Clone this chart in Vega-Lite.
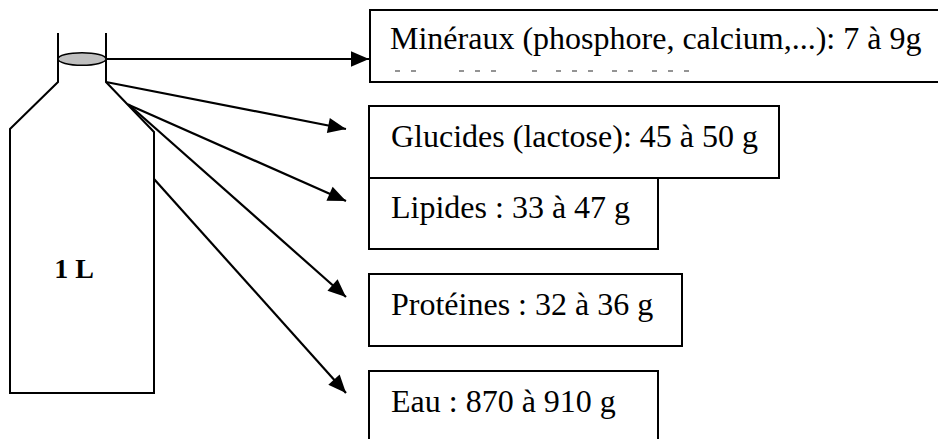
{
  "$schema": "https://vega.github.io/schema/vega-lite/v6.json",
  "width": 938,
  "height": 439,
  "autosize": {"type": "fit", "contains": "padding"},
  "padding": 0,
  "background": "white",
  "config": {"view": {"stroke": null}},
  "datasets": {
    "boxes": [
      {"item": "Minéraux", "x": 370, "x2": 950, "y": 10, "y2": 82, "tx": 390, "ty": 49, "text": "Minéraux (phosphore, calcium,...): 7 à 9g"},
      {"item": "Glucides", "x": 369, "x2": 779, "y": 106, "y2": 178, "tx": 391, "ty": 147, "text": "Glucides (lactose): 45 à 50 g"},
      {"item": "Lipides", "x": 369, "x2": 658, "y": 178, "y2": 249, "tx": 391, "ty": 218, "text": "Lipides : 33 à 47 g"},
      {"item": "Protéines", "x": 369, "x2": 682, "y": 274, "y2": 346, "tx": 391, "ty": 315, "text": "Protéines : 32 à 36 g"},
      {"item": "Eau", "x": 369, "x2": 658, "y": 371, "y2": 460, "tx": 391, "ty": 412, "text": "Eau : 870 à 910 g"}
    ],
    "dashes": [
      {"x": 395, "x2": 400, "y": 71}, {"x": 411, "x2": 416, "y": 71},
      {"x": 459, "x2": 464, "y": 71}, {"x": 475, "x2": 480, "y": 71}, {"x": 491, "x2": 496, "y": 71},
      {"x": 532, "x2": 537, "y": 71}, {"x": 556, "x2": 561, "y": 71}, {"x": 572, "x2": 577, "y": 71}, {"x": 588, "x2": 593, "y": 71},
      {"x": 612, "x2": 617, "y": 71}, {"x": 628, "x2": 633, "y": 71},
      {"x": 652, "x2": 657, "y": 71}, {"x": 668, "x2": 673, "y": 71}, {"x": 684, "x2": 689, "y": 71}
    ],
    "bottle": [
      {"order": 1, "x": 58, "y": 33},
      {"order": 2, "x": 58, "y": 82},
      {"order": 3, "x": 10, "y": 129},
      {"order": 4, "x": 10, "y": 393},
      {"order": 5, "x": 154, "y": 393},
      {"order": 6, "x": 154, "y": 132},
      {"order": 7, "x": 106, "y": 82},
      {"order": 8, "x": 106, "y": 33}
    ],
    "cap": [{"x": 82, "y": 59}],
    "volume": [{"x": 74, "y": 278, "text": "1 L"}],
    "arrows": [
      {"item": "Minéraux", "x": 106, "y": 59, "x2": 369, "y2": 59},
      {"item": "Glucides", "x": 106, "y": 82, "x2": 346, "y2": 129},
      {"item": "Lipides", "x": 129, "y": 105, "x2": 346, "y2": 201},
      {"item": "Protéines", "x": 128, "y": 104, "x2": 346, "y2": 297},
      {"item": "Eau", "x": 154, "y": 179, "x2": 346, "y2": 393}
    ]
  },
  "layer": [
    {
      "data": {"name": "boxes"},
      "mark": {"type": "rect", "fill": "white", "stroke": "black", "strokeWidth": 2, "clip": true},
      "encoding": {
        "x": {"field": "x", "type": "quantitative", "scale": {"domain": [0, 938], "nice": false, "zero": false}, "axis": null},
        "x2": {"field": "x2"},
        "y": {"field": "y", "type": "quantitative", "scale": {"domain": [0, 439], "nice": false, "zero": false, "reverse": true}, "axis": null},
        "y2": {"field": "y2"}
      }
    },
    {
      "data": {"name": "boxes"},
      "mark": {"type": "text", "font": "Liberation Serif", "fontSize": 32, "align": "left", "baseline": "alphabetic", "color": "black"},
      "encoding": {
        "x": {"field": "tx", "type": "quantitative", "scale": {"domain": [0, 938], "nice": false, "zero": false}, "axis": null},
        "y": {"field": "ty", "type": "quantitative", "scale": {"domain": [0, 439], "nice": false, "zero": false, "reverse": true}, "axis": null},
        "text": {"field": "text"}
      }
    },
    {
      "data": {"name": "dashes"},
      "mark": {"type": "rule", "color": "#707070", "strokeWidth": 1.5},
      "encoding": {
        "x": {"field": "x", "type": "quantitative", "scale": {"domain": [0, 938], "nice": false, "zero": false}, "axis": null},
        "x2": {"field": "x2"},
        "y": {"field": "y", "type": "quantitative", "scale": {"domain": [0, 439], "nice": false, "zero": false, "reverse": true}, "axis": null}
      }
    },
    {
      "data": {"name": "bottle"},
      "mark": {"type": "line", "color": "black", "strokeWidth": 2, "strokeJoin": "miter"},
      "encoding": {
        "x": {"field": "x", "type": "quantitative", "scale": {"domain": [0, 938], "nice": false, "zero": false}, "axis": null},
        "y": {"field": "y", "type": "quantitative", "scale": {"domain": [0, 439], "nice": false, "zero": false, "reverse": true}, "axis": null},
        "order": {"field": "order", "type": "quantitative"}
      }
    },
    {
      "data": {"name": "arrows"},
      "mark": {"type": "rule", "color": "black", "strokeWidth": 2.2},
      "encoding": {
        "x": {"field": "x", "type": "quantitative", "scale": {"domain": [0, 938], "nice": false, "zero": false}, "axis": null},
        "x2": {"field": "x2"},
        "y": {"field": "y", "type": "quantitative", "scale": {"domain": [0, 439], "nice": false, "zero": false, "reverse": true}, "axis": null},
        "y2": {"field": "y2"}
      }
    },
    {
      "data": {"name": "arrows"},
      "transform": [{"calculate": "atan2(datum.y2 - datum.y, datum.x2 - datum.x) * 180 / PI", "as": "angle"}],
      "mark": {"type": "point", "shape": "M0,0L-2,-0.85L-2,0.85Z", "filled": true, "fill": "black", "opacity": 1, "size": 324, "strokeWidth": 0},
      "encoding": {
        "x": {"field": "x2", "type": "quantitative", "scale": {"domain": [0, 938], "nice": false, "zero": false}, "axis": null},
        "y": {"field": "y2", "type": "quantitative", "scale": {"domain": [0, 439], "nice": false, "zero": false, "reverse": true}, "axis": null},
        "angle": {"field": "angle", "type": "quantitative", "scale": null}
      }
    },
    {
      "data": {"name": "cap"},
      "mark": {"type": "point", "shape": "M-1,0A1,0.26 0 1,0 1,0A1,0.26 0 1,0 -1,0Z", "filled": true, "fill": "#c0c0c0", "stroke": "black", "strokeWidth": 1.5, "opacity": 1, "size": 2304},
      "encoding": {
        "x": {"field": "x", "type": "quantitative", "scale": {"domain": [0, 938], "nice": false, "zero": false}, "axis": null},
        "y": {"field": "y", "type": "quantitative", "scale": {"domain": [0, 439], "nice": false, "zero": false, "reverse": true}, "axis": null}
      }
    },
    {
      "data": {"name": "volume"},
      "mark": {"type": "text", "font": "Liberation Serif", "fontSize": 28, "fontWeight": "bold", "align": "center", "baseline": "alphabetic", "color": "black"},
      "encoding": {
        "x": {"field": "x", "type": "quantitative", "scale": {"domain": [0, 938], "nice": false, "zero": false}, "axis": null},
        "y": {"field": "y", "type": "quantitative", "scale": {"domain": [0, 439], "nice": false, "zero": false, "reverse": true}, "axis": null},
        "text": {"field": "text"}
      }
    }
  ]
}
